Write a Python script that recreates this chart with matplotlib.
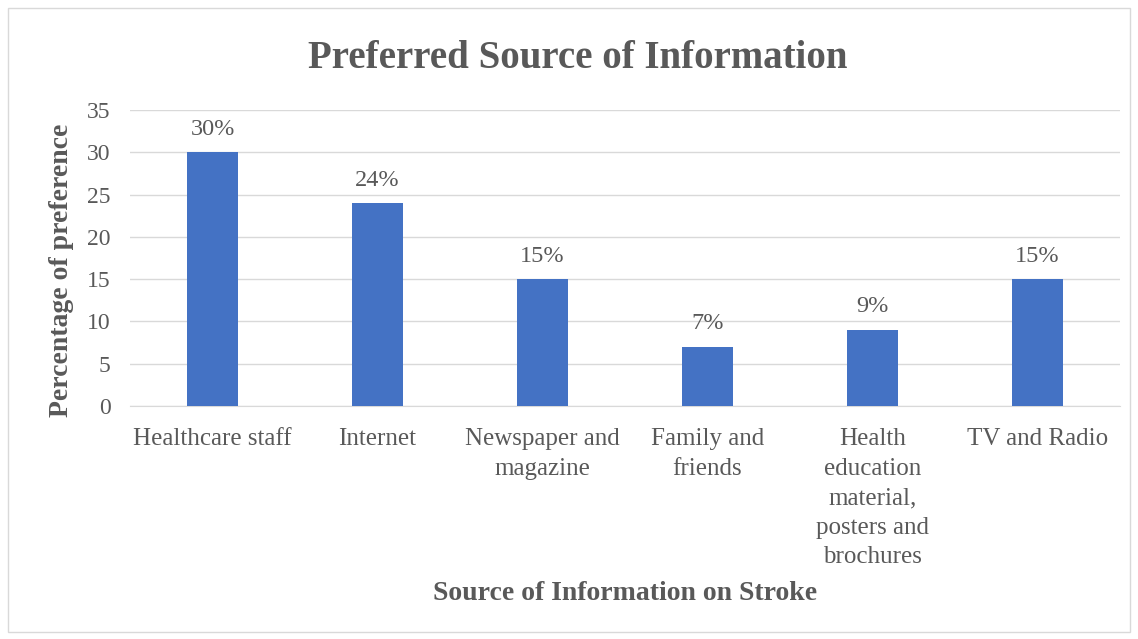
import matplotlib.pyplot as plt
from matplotlib.patches import Rectangle

# --- Data ---
categories = ['Healthcare staff', 'Internet', 'Newspaper and\nmagazine',
              'Family and\nfriends',
              'Health\neducation\nmaterial,\nposters and\nbrochures',
              'TV and Radio']
values = [30, 24, 15, 7, 9, 15]
yticks = [0, 5, 10, 15, 20, 25, 30, 35]

text_color = '#595959'
bar_color = '#4472C4'

plt.rcParams['font.family'] = ['Liberation Serif', 'DejaVu Serif']

fig = plt.figure(figsize=(11.38, 6.39), dpi=100)
ax = fig.add_axes([130 / 1138, 1 - 406 / 639, 990 / 1138, 296 / 639])

x = range(len(categories))
bars = ax.bar(x, values, width=0.31, color=bar_color, zorder=3)

for b, v in zip(bars, values):
    ax.annotate(f'{v}%', xy=(b.get_x() + b.get_width() / 2, v),
                xytext=(0, 9), textcoords='offset points',
                ha='center', va='bottom', fontsize=17.5, color=text_color)

ax.set_xlim(-0.5, len(categories) - 0.5)
ax.set_ylim(0, 35)
ax.set_yticks(yticks)
ax.set_xticks(list(x))
ax.set_xticklabels(categories, fontsize=18, color=text_color, va='top',
                   linespacing=1.44)
ax.tick_params(axis='y', labelsize=17, labelcolor=text_color, length=0, pad=14)
ax.tick_params(axis='x', length=0, pad=16)

ax.grid(axis='y', color='#D9D9D9', linewidth=1, zorder=0)
for s in ['top', 'right', 'left']:
    ax.spines[s].set_visible(False)
ax.spines['bottom'].set_color('#D9D9D9')

fig.text(62 / 1138, 1 - 270 / 639, 'Percentage of preference', rotation=90,
         ha='center', va='center', fontsize=20, fontweight='bold', color=text_color)
fig.text(625 / 1138, 1 - 594 / 639, 'Source of Information on Stroke',
         ha='center', va='center', fontsize=20, fontweight='bold', color=text_color)
fig.text(578 / 1138, 1 - 58 / 639, 'Preferred Source of Information',
         ha='center', va='center', fontsize=28, fontweight='bold', color=text_color)

# outer chart border
fig.patches.append(Rectangle((8 / 1138, 7 / 639), 1122 / 1138, 624 / 639,
                             transform=fig.transFigure, fill=False,
                             edgecolor='#D9D9D9', linewidth=1))

fig.savefig('out.png', dpi=100)
